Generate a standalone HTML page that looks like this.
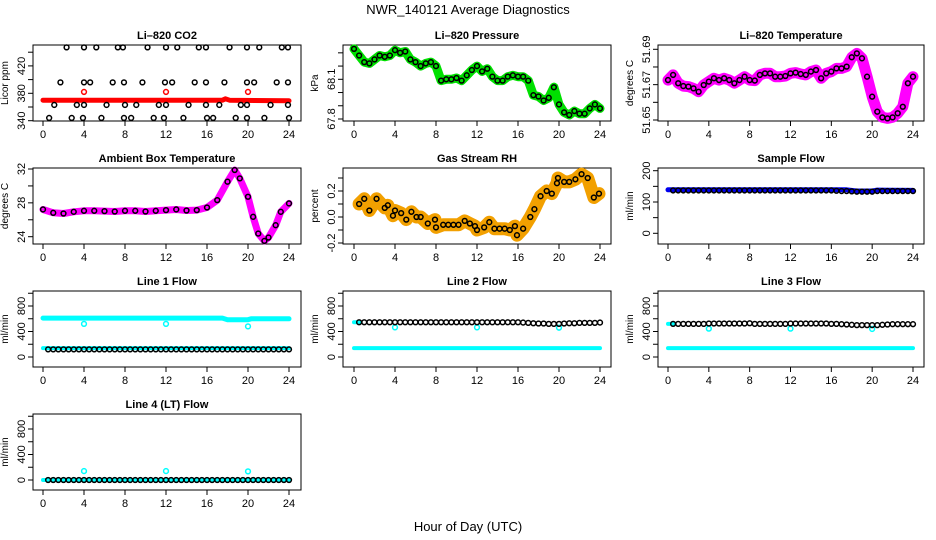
<!DOCTYPE html>
<html><head><meta charset="utf-8"><style>
html,body{margin:0;padding:0;background:#fff}
svg{display:block;font-family:"Liberation Sans",Arial,sans-serif}
</style></head><body>
<svg id="chart" width="936" height="540" viewBox="0 0 936 540">
<text x="468" y="14" text-anchor="middle" font-size="13">NWR_140121  Average Diagnostics</text>
<text x="468" y="531" text-anchor="middle" font-size="13">Hour of Day (UTC)</text>
</svg>
<script>
// ---- data ----
const xTicks=[0,4,8,12,16,20,24];
const t48=[0.5,1,1.5,2,2.5,3,3.5,4,4.5,5,5.5,6,6.5,7,7.5,8,8.5,9,9.5,10,10.5,11,11.5,12,12.5,13,13.5,14,14.5,15,15.5,16,16.5,17,17.5,18,18.5,19,19.5,20,20.5,21,21.5,22,22.5,23,23.5,24];
const t49=[0].concat(t48);
// CO2
const co2LineT=[0,17.5,17.8,18.2,24];
const co2LineV=[370,370,372,370,369];
const co2OutT=[4,12,20];
const co2OutV=[382,382,382];
const co2PtT=[2.3,4,5.2,7.3,7.8,10.2,12,13.1,15.2,15.9,18.2,19.9,21.1,23.3,23.9,1.7,4,4.6,6.8,7.9,9.7,11.9,12.6,14.8,15.9,17.7,19.9,20.6,22.8,23.9,1.1,3.3,4,6.2,8,9.1,11.3,12,14.2,15.9,17.2,19.3,19.9,22.2,23.9,0.6,2.8,3.9,5.7,7.9,8.6,10.8,11.8,13.7,16,16.6,18.8,19.9,21.6,24];
const co2PtV=[447,447,447,447,447,447,447,447,447,447,447,447,447,447,447,396,396,396,396,396,396,396,396,396,396,396,396,396,396,396,363,363,363,363,363,363,363,363,363,363,363,363,363,363,363,344,344,344,344,344,344,344,344,344,344,344,344,344,344,344];
// Pressure
const presV=[68.33,68.28,68.23,68.22,68.25,68.28,68.27,68.28,68.32,68.30,68.31,68.25,68.23,68.20,68.22,68.23,68.20,68.09,68.10,68.10,68.11,68.09,68.13,68.17,68.20,68.16,68.18,68.12,68.09,68.09,68.12,68.13,68.12,68.12,68.09,67.98,67.97,67.94,67.96,68.04,67.91,67.85,67.83,67.86,67.84,67.84,67.88,67.91,67.88];
// Li-820 temperature
const tempV=[51.6726,51.6755,51.6708,51.6692,51.6689,51.6679,51.6660,51.6698,51.6717,51.6736,51.6726,51.6736,51.6726,51.6708,51.6726,51.6745,51.6726,51.6723,51.6755,51.6764,51.6764,51.6745,51.6745,51.6749,51.6764,51.6768,51.6760,51.6755,51.6774,51.6783,51.6736,51.6764,51.6774,51.6792,51.6792,51.6802,51.6855,51.6877,51.6849,51.6745,51.6632,51.6547,51.6515,51.6509,51.6515,51.6538,51.6575,51.6708,51.6745];
// Ambient
const ambT=[0,1,2,3,4,5,6,7,8,9,10,11,12,13,14,15,16,17,18,18.7,19.2,20,20.5,21,21.6,22,22.7,23.2,24];
const ambV=[27.22,26.82,26.74,26.94,27.06,27.06,27.02,26.98,27.06,27.06,26.98,27.06,27.14,27.22,27.10,27.14,27.45,28.32,30.50,31.88,30.89,28.72,26.35,24.37,23.50,23.90,25.36,26.94,27.93];
// Gas stream RH
const rhT=[0.5,1,1.5,2.2,3,3.3,3.8,4,4.6,5.1,5.6,6.1,6.5,7.2,7.9,8,8.7,9.2,9.7,10.2,10.8,11.3,11.8,12,12.7,13.2,13.7,14.2,14.7,15.2,15.7,15.9,16.5,17.2,17.6,18.2,18.8,19.3,19.8,19.9,20.5,21,21.6,22.2,22.8,23.4,23.9];
const rhV=[0.10,0.14,0.05,0.14,0.07,0.09,0.01,0.05,0.03,-0.02,0.04,0.00,0.00,-0.05,-0.02,-0.08,-0.06,-0.06,-0.06,-0.06,-0.03,-0.05,-0.07,-0.10,-0.08,-0.04,-0.09,-0.09,-0.09,-0.10,-0.07,-0.14,-0.09,0.00,0.06,0.16,0.20,0.18,0.26,0.30,0.27,0.27,0.29,0.33,0.30,0.15,0.18];
// Sample flow
const sampBandT=[0,17.5,18.5,20,20.5,24];
const sampBandV=[139,139,135,135,138,137];
const sampPtV=[137,137,137,137,137,137,137,137,137,137,137,137,137,137,137,137,137,137,137,137,137,137,137,137,137,137,137,137,137,137,137,137,136,135,135,134,133,133,133,133,135,135,135,135,135,135,135,135];
// Line flows: upper/lower cyan bands, cyan outliers, black points
const l1UpT=[0,17.5,18,20,20.3,24], l1UpV=[610,610,585,585,600,600];
const l1LoT=[0,24], l1LoV=[140,140];
const l1OutT=[4,12,20], l1OutV=[520,520,480];
const l1Blk=[120,120,120,120,120,120,120,120,120,120,120,120,120,120,120,120,120,120,120,120,120,120,120,120,120,120,120,120,120,120,120,120,120,120,120,120,120,120,120,120,120,120,120,120,120,120,120,120];
const l2UpT=[0,0.6], l2UpV=[545,545];
const l2LoT=[0,24], l2LoV=[140,140];
const l2OutT=[4,12,20], l2OutV=[465,465,460];
const l2Blk=[545,545,545,545,545,545,545,545,545,545,545,545,545,545,545,545,545,545,545,545,545,545,545,545,545,545,545,545,545,545,545,545,540,535,530,525,525,520,520,520,525,530,530,535,535,535,535,540];
const l3UpT=[0,0.6], l3UpV=[520,520];
const l3LoT=[0,24], l3LoV=[140,140];
const l3OutT=[4,12,20], l3OutV=[445,445,440];
const l3Blk=[520,520,520,520,520,520,520,525,525,525,525,525,525,525,525,530,520,520,520,520,520,520,520,525,525,525,525,525,525,525,525,520,520,515,510,505,500,500,500,500,500,505,510,515,515,515,515,515];
const l4LoT=[0,24], l4LoV=[0,0];
const l4OutT=[4,12,20], l4OutV=[140,140,135];
const l4Blk=[0,0,0,0,0,0,0,0,0,0,0,0,0,0,0,0,0,0,0,0,0,0,0,0,0,0,0,0,0,0,0,0,0,0,0,0,0,0,0,0,0,0,0,0,0,0,0,0];

// ---- layout ----
const NS='http://www.w3.org/2000/svg';
const svg=document.getElementById('chart');
const cols=[{b:[33,301],x:[43,289]},{b:[343,611],x:[354,600]},{b:[658,924],x:[668,913]}];
const rows=[[45,121],[168,244],[291,367],[414,490]];
function mk(tag,attrs,parent){const e=document.createElementNS(NS,tag);for(const k in attrs)e.setAttribute(k,attrs[k]);(parent||svg).appendChild(e);return e;}
function panel(name,ci,ri,title,ylab,y0,p0,y1,p1,ticks,labels){
  const c=cols[ci],r=rows[ri];
  const g=mk('g',{});
  
  
  const sx=t=>c.x[0]+(t/24)*(c.x[1]-c.x[0]);
  const sy=v=>p0+(v-y0)*(p1-p0)/(y1-y0);
  const box=mk('rect',{x:c.b[0],y:r[0],width:c.b[1]-c.b[0],height:r[1]-r[0],fill:'none',stroke:'#000','stroke-width':1},g);
  
  
  const tt=mk('text',{x:(c.b[0]+c.b[1])/2,y:r[0]-6,'text-anchor':'middle','font-size':11,'font-weight':'bold'},g);
  tt.textContent=title;
  
  
  const yl=mk('text',{x:0,y:0,'text-anchor':'middle','font-size':10,transform:`translate(${c.b[0]-25},${(r[0]+r[1])/2}) rotate(-90)`},g);
  yl.textContent=ylab;
  
  
  const xa=mk('g',{},g);
  
  
  mk('line',{x1:sx(0),x2:sx(24),y1:r[1],y2:r[1],stroke:'#000'},xa);
  xTicks.forEach(t=>{mk('line',{x1:sx(t),x2:sx(t),y1:r[1],y2:r[1]+5,stroke:'#000'},xa);
    const l=mk('text',{x:sx(t),y:r[1]+17,'text-anchor':'middle','font-size':11},xa);l.textContent=t;});
  const ya=mk('g',{},g);
  
  
  mk('line',{x1:c.b[0],x2:c.b[0],y1:sy(ticks[0]),y2:sy(ticks[ticks.length-1]),stroke:'#000'},ya);
  ticks.forEach(v=>{mk('line',{x1:c.b[0]-5,x2:c.b[0],y1:sy(v),y2:sy(v),stroke:'#000'},ya);});
  labels.forEach(v=>{const l=mk('text',{x:0,y:0,'text-anchor':'middle','font-size':11,transform:`translate(${c.b[0]-8},${sy(v[0])}) rotate(-90)`},ya);l.textContent=v[1];});
  const d=mk('g',{},g);
  
  
  return {sx,sy,g:d};
}
function band(P,ts,vs,color,w,nm){
  const pts=ts.map((t,i)=>P.sx(t).toFixed(1)+','+P.sy(vs[i]).toFixed(1)).join(' ');
  const pl=mk('polyline',{points:pts,fill:'none',stroke:color,'stroke-width':w,'stroke-linejoin':'round','stroke-linecap':'round'},P.g);
  
  
}
function pts(P,ts,vs,color,nm,r){
  ts.forEach((t,i)=>{const c=mk('circle',{cx:P.sx(t),cy:P.sy(vs[i]),r:r||2.4,fill:'none',stroke:color,'stroke-width':1.5},P.g);
    
    });
}
const flowTicks=[0,200,400,600,800,1000], flowLab=[[0,'0'],[400,'400'],[800,'800']];

let P=panel('co2',0,0,'Li\u2013820 CO2','Licor ppm',340,120.7,380,93.3,[340,360,380,400,420,440],[[340,'340'],[380,'380'],[420,'420']]);
band(P,co2LineT,co2LineV,'#ff0000',5,'co2-red-band');
pts(P,co2OutT,co2OutV,'#ff0000','co2-red-point');
pts(P,co2PtT,co2PtV,'#000','co2-point');

P=panel('pressure',1,0,'Li\u2013820 Pressure','kPa',67.8,119,68.1,79.3,[67.8,67.9,68.0,68.1,68.2,68.3],[[67.8,'67.8'],[68.1,'68.1']]);
band(P,t49,presV,'#00e000',9,'pressure-green-band');
pts(P,t49,presV,'#000','pressure-point');

P=panel('li820-temp',2,0,'Li\u2013820 Temperature','degrees C',51.65,120,51.69,49.3,[51.65,51.66,51.67,51.68,51.69],[[51.65,'51.65'],[51.67,'51.67'],[51.69,'51.69']]);
band(P,t49,tempV,'#ff00ff',11,'temp-magenta-band');
pts(P,t49,tempV,'#000','temp-point');

P=panel('ambient',0,1,'Ambient Box Temperature','degrees C',24,236.7,32,169,[24,26,28,30,32],[[24,'24'],[28,'28'],[32,'32']]);
band(P,ambT,ambV,'#ff00ff',7,'ambient-magenta-band');
pts(P,ambT,ambV,'#000','ambient-point');

P=panel('rh',1,1,'Gas Stream RH','percent',-0.2,243,0.2,191,[-0.2,-0.1,0,0.1,0.2,0.3],[[-0.2,'-0.2'],[0,'0.0'],[0.2,'0.2']]);
band(P,rhT,rhV,'#f2a000',13,'rh-orange-band');
pts(P,rhT,rhV,'#000','rh-point');

P=panel('sample-flow',2,1,'Sample Flow','ml/min',0,233.3,200,170.7,[0,50,100,150,200],[[0,'0'],[100,'100'],[200,'200']]);
band(P,sampBandT,sampBandV,'#0000ee',5,'sample-blue-band');
pts(P,t48,sampPtV,'#000','sample-point');

P=panel('line1',0,2,'Line 1 Flow','ml/min',0,357,800,306,flowTicks,flowLab);
band(P,l1UpT,l1UpV,'#00ffff',5,'line1-cyan-upper');
band(P,l1LoT,l1LoV,'#00ffff',4,'line1-cyan-lower');
pts(P,l1OutT,l1OutV,'#00ffff','line1-cyan-point');
pts(P,t48,l1Blk,'#000','line1-point');

P=panel('line2',1,2,'Line 2 Flow','ml/min',0,357,800,306,flowTicks,flowLab);
band(P,l2UpT,l2UpV,'#00ffff',4,'line2-cyan-upper');
band(P,l2LoT,l2LoV,'#00ffff',4,'line2-cyan-lower');
pts(P,l2OutT,l2OutV,'#00ffff','line2-cyan-point');
pts(P,t48,l2Blk,'#000','line2-point');

P=panel('line3',2,2,'Line 3 Flow','ml/min',0,357,800,306,flowTicks,flowLab);
band(P,l3UpT,l3UpV,'#00ffff',4,'line3-cyan-upper');
band(P,l3LoT,l3LoV,'#00ffff',4,'line3-cyan-lower');
pts(P,l3OutT,l3OutV,'#00ffff','line3-cyan-point');
pts(P,t48,l3Blk,'#000','line3-point');

P=panel('line4',0,3,'Line 4 (LT) Flow','ml/min',0,480,800,429,flowTicks,flowLab);
band(P,l4LoT,l4LoV,'#00ffff',4,'line4-cyan-band');
pts(P,l4OutT,l4OutV,'#00ffff','line4-cyan-point');
pts(P,t48,l4Blk,'#000','line4-point');
</script>
</body></html>
